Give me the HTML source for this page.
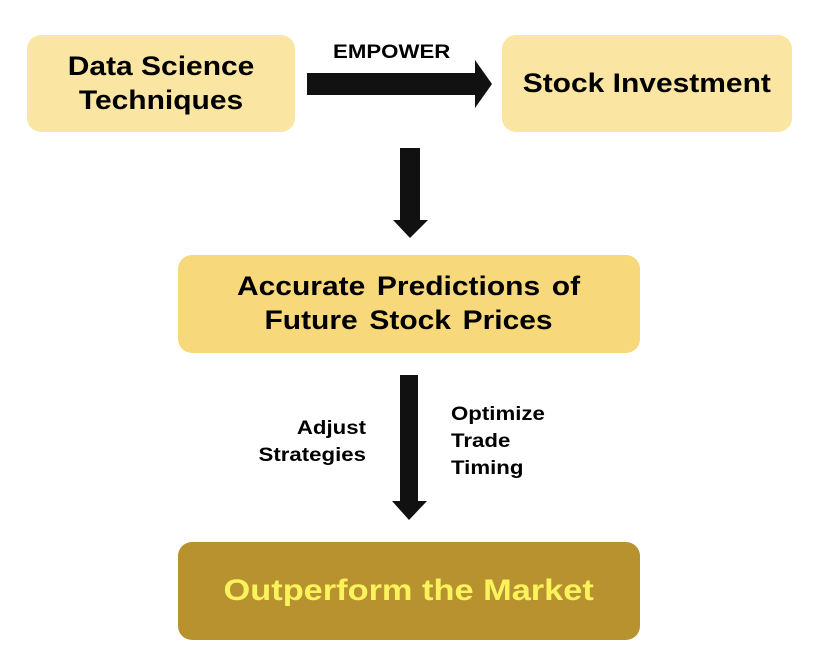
<!DOCTYPE html>
<html><head><meta charset="utf-8"><style>
body{margin:0;width:840px;height:664px;background:#fff;position:relative;font-family:"Liberation Sans",Arial,sans-serif;overflow:hidden}
.box{position:absolute;border-radius:14px;display:flex;align-items:center;justify-content:center;text-align:center;font-weight:bold;color:#000;line-height:1.25}
.box span{display:inline-block;transform:scaleX(1.11)}
.lbl{position:absolute;font-weight:bold;font-size:19px;color:#000;line-height:27px}
</style></head><body>
<div class="box" style="left:27px;top:35px;width:268px;height:97px;background:#fae5a3;font-size:27px"><span>Data Science<br>Techniques</span></div>
<div class="box" style="left:502px;top:35px;width:290px;height:97px;background:#fae5a3;font-size:27px"><span>Stock Investment</span></div>
<div class="lbl" style="left:333px;top:39px;font-size:19px;transform:scaleX(1.17);transform-origin:left">EMPOWER</div>
<svg width="840" height="664" style="position:absolute;left:0;top:0">
<polygon points="307,73 475,73 475,60 492,84 475,108 475,95 307,95" fill="#111"/>
<polygon points="400,148 420,148 420,220 428,220 410,238 393,220 400,220" fill="#111"/>
<polygon points="400,375 418,375 418,501 427,501 409,520 392,501 400,501" fill="#111"/>
</svg>
<div class="box" style="left:178px;top:255px;width:462px;height:98px;background:#f7d97c;font-size:27px;word-spacing:3px"><span>Accurate Predictions of<br>Future Stock Prices</span></div>
<div class="lbl" style="left:250px;top:415px;width:116px;text-align:right;transform:scaleX(1.17);transform-origin:right">Adjust<br>Strategies</div>
<div class="lbl" style="left:451px;top:401px;transform:scaleX(1.17);transform-origin:left">Optimize<br>Trade<br>Timing</div>
<div class="box" style="left:178px;top:542px;width:462px;height:98px;background:#b99230;font-size:30px;color:#fbf35c"><span style="transform:scaleX(1.145)">Outperform the Market</span></div>
</body></html>
